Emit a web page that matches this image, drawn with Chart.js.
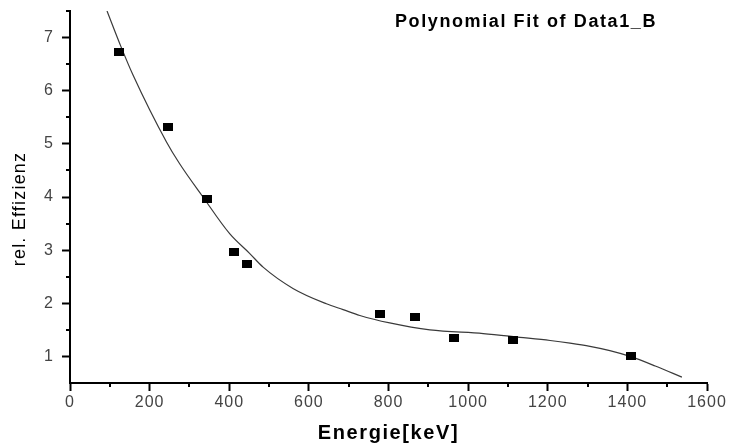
<!DOCTYPE html>
<html>
<head>
<meta charset="utf-8">
<script src="https://cdn.jsdelivr.net/npm/chart.js@4.4.1/dist/chart.umd.min.js"></script>
<style>
  html, body { margin: 0; padding: 0; background: #fff; }
  #c { display: block; }
</style>
</head>
<body>
<canvas id="c" width="730" height="446"></canvas>
<script>
// ---- data ----
const energies = [122, 245, 344, 411, 444, 779, 867, 964, 1112, 1408];
const efficiencies = [6.72, 5.32, 3.97, 2.96, 2.73, 1.79, 1.75, 1.34, 1.31, 1.00];

const fitEnergies = [93, 128, 158, 242, 275, 334, 401, 451, 485, 560, 644, 686, 728, 803, 904, 1038, 1130, 1206, 1256, 1306, 1356, 1407, 1470, 1537];
const fitValues = [7.50, 6.83, 6.30, 5.04, 4.63, 4.00, 3.31, 2.94, 2.68, 2.28, 1.99, 1.88, 1.77, 1.63, 1.50, 1.43, 1.36, 1.30, 1.25, 1.19, 1.11, 1.00, 0.82, 0.61];

const xTicks = [0, 200, 400, 600, 800, 1000, 1200, 1400, 1600];
const xMinorTicks = [100, 300, 500, 700, 900, 1100, 1300, 1500];
const yTicks = [1, 2, 3, 4, 5, 6, 7];
const yMinorTicks = [1.5, 2.5, 3.5, 4.5, 5.5, 6.5, 7.5];

const xTitle = 'Energie[keV]';
const yTitle = 'rel. Effizienz';
const legendText = 'Polynomial Fit of Data1_B';

// ---- styles ----
const FONT = '"Liberation Sans", Arial, sans-serif';

const marker = document.createElement('canvas');
marker.width = 10; marker.height = 8;
(function () {
  const m = marker.getContext('2d');
  m.fillStyle = '#000';
  m.fillRect(0, 0, 10, 8);
})();

const extras = {
  id: 'extras',
  beforeDraw(chart) {
    chart.ctx.letterSpacing = '1px';
  },
  afterDraw(chart) {
    const ctx = chart.ctx;
    const xs = chart.scales.x, ys = chart.scales.y;
    const area = chart.chartArea;
    ctx.save();
    // minor ticks
    ctx.strokeStyle = '#000';
    ctx.lineWidth = 2;
    ctx.beginPath();
    xMinorTicks.forEach(v => {
      const px = Math.round(xs.getPixelForValue(v));
      ctx.moveTo(px, area.bottom);
      ctx.lineTo(px, area.bottom + 4);
    });
    yMinorTicks.forEach(v => {
      const py = Math.round(ys.getPixelForValue(v));
      ctx.moveTo(area.left, py);
      ctx.lineTo(area.left - 4, py);
    });
    ctx.stroke();

    // axis titles
    ctx.fillStyle = '#000';
    ctx.letterSpacing = '1.6px';
    ctx.font = 'bold 20px ' + FONT;
    ctx.textAlign = 'center';
    ctx.textBaseline = 'middle';
    ctx.fillText(xTitle, (area.left + area.right) / 2, 433);

    ctx.save();
    ctx.letterSpacing = '1.2px';
    ctx.font = '18px ' + FONT;
    ctx.translate(20, (area.top + area.bottom) / 2 + 12);
    ctx.rotate(-Math.PI / 2);
    ctx.fillText(yTitle, 0, 0);
    ctx.restore();

    // legend text
    ctx.letterSpacing = '1.6px';
    ctx.font = 'bold 18px ' + FONT;
    ctx.textAlign = 'left';
    ctx.fillText(legendText, 395, 22);
    ctx.restore();
  }
};

new Chart(document.getElementById('c'), {
  type: 'scatter',
  data: {
    datasets: [
      {
        label: 'Data1_B',
        data: energies.map((e, i) => ({ x: e, y: efficiencies[i] })),
        pointStyle: marker,
        pointRadius: 5,
        pointHoverRadius: 5,
        showLine: false,
        order: 0
      },
      {
        label: 'Polynomial Fit of Data1_B',
        data: fitEnergies.map((e, i) => ({ x: e, y: fitValues[i] })),
        showLine: true,
        borderColor: '#3a3a3a',
        borderWidth: 1.2,
        pointRadius: 0,
        cubicInterpolationMode: 'monotone',
        fill: false,
        order: 1
      }
    ]
  },
  options: {
    responsive: false,
    animation: false,
    devicePixelRatio: 1,
    layout: { padding: { top: 11, right: 23, left: 0, bottom: 0 } },
    plugins: {
      legend: { display: false },
      title: { display: false },
      tooltip: { enabled: false }
    },
    scales: {
      x: {
        type: 'linear',
        min: 0,
        max: 1600,
        afterBuildTicks: s => { s.ticks = xTicks.map(v => ({ value: v })); },
        afterFit: s => { s.height = 63; s.paddingLeft = 0; s.paddingRight = 0; },
        border: { display: true, color: '#000', width: 2 },
        grid: { display: true, drawOnChartArea: false, drawTicks: true, tickLength: 8, tickColor: '#000', tickWidth: 2 },
        ticks: { color: '#444', font: { family: FONT, size: 16 }, padding: 2, maxRotation: 0, callback: v => String(v) }
      },
      y: {
        type: 'linear',
        min: 0.5,
        max: 7.5,
        afterBuildTicks: s => { s.ticks = yTicks.map(v => ({ value: v })); },
        afterFit: s => { s.width = 70; s.paddingTop = 0; s.paddingBottom = 0; },
        border: { display: true, color: '#000', width: 2 },
        grid: { display: true, drawOnChartArea: false, drawTicks: true, tickLength: 8, tickColor: '#000', tickWidth: 2 },
        ticks: { color: '#444', font: { family: FONT, size: 16 }, padding: 8, callback: v => String(v) }
      }
    }
  },
  plugins: [extras]
});
</script>
</body>
</html>
